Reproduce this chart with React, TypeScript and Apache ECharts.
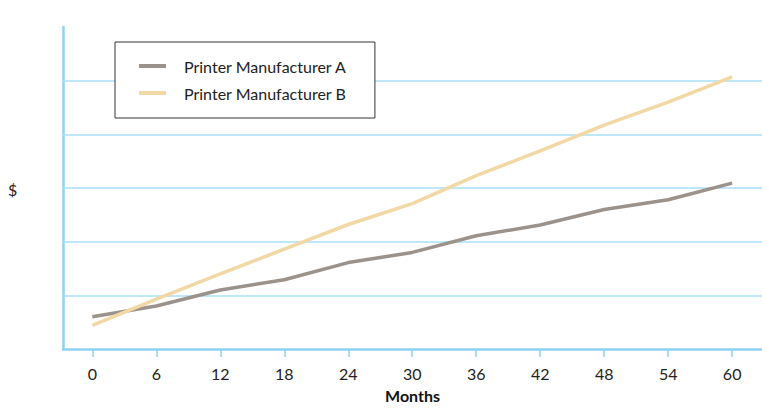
import React, { useEffect, useRef } from "react";
import * as echarts from "echarts";

const months = [0, 6, 12, 18, 24, 30, 36, 42, 48, 54, 60];
const seriesA = [0.6, 0.8, 1.1, 1.29, 1.61, 1.8, 2.11, 2.31, 2.6, 2.78, 3.09];
const seriesB = [0.44, 0.93, 1.4, 1.86, 2.32, 2.71, 3.23, 3.69, 4.17, 4.6, 5.07];
const seriesNames = ["Printer Manufacturer A", "Printer Manufacturer B"];
const gridValues = [1, 2, 3, 4, 5];
const xTitle = "Months";
const yTitle = "$";

const FONT = "Lato, 'Open Sans', sans-serif";

export default function App() {
  const ref = useRef<HTMLDivElement>(null);
  useEffect(() => {
    if (!ref.current) return;
    const chart = echarts.init(ref.current, null, { renderer: "svg" });
    chart.setOption({
      animation: false,
      grid: { left: 63, right: 0, top: 27, bottom: 55, containLabel: false },
      xAxis: {
        type: "value",
        min: -2.75,
        max: 62.8,
        name: xTitle,
        nameLocation: "middle",
        nameGap: 38,
        nameTextStyle: { fontFamily: FONT, fontSize: 16, fontWeight: "bold", color: "#111" },
        axisLine: { show: true, onZero: false, lineStyle: { color: "#8fd3f3", width: 2.5 } },
        axisTick: { show: true, length: 8, customValues: months, lineStyle: { color: "#8fd3f3", width: 1.5 } },
        axisLabel: { customValues: months, margin: 16, fontFamily: FONT, fontSize: 16, color: "#222" },
        splitLine: { show: false },
      },
      yAxis: {
        type: "value",
        min: 0,
        max: 6,
        interval: 1,
        axisLine: { show: true, onZero: false, lineStyle: { color: "#8fd3f3", width: 2.5 } },
        axisTick: { show: false },
        axisLabel: { show: false },
        splitLine: { show: false },
      },
      legend: {
        left: 115,
        top: 42,
        orient: "vertical",
        icon: "rect",
        itemWidth: 27,
        itemHeight: 4,
        itemGap: 11,
        padding: [16, 28, 17, 24],
        borderColor: "#333",
        borderWidth: 1,
        backgroundColor: "#fff",
        textStyle: { fontFamily: FONT, fontSize: 16, color: "#222", padding: [0, 0, 0, 13] },
        data: seriesNames,
      },
      graphic: [
        {
          type: "text",
          left: 8,
          top: 181,
          style: { text: yTitle, fontFamily: FONT, fontSize: 16, fill: "#222" },
        },
      ],
      series: [
        {
          name: seriesNames[0],
          type: "line",
          data: months.map((m, i) => [m, seriesA[i]]),
          showSymbol: false,
          symbol: "none",
          lineStyle: { color: "#9b928b", width: 3.5 },
          itemStyle: { color: "#9b928b" },
          z: 3,
          markLine: {
            silent: true,
            symbol: "none",
            label: { show: false },
            lineStyle: { color: "#a9dff6", width: 1.5, type: "solid" },
            data: gridValues.map((v) => ({ yAxis: v })),
            z: 1,
          },
        },
        {
          name: seriesNames[1],
          type: "line",
          data: months.map((m, i) => [m, seriesB[i]]),
          showSymbol: false,
          symbol: "none",
          lineStyle: { color: "#f1d8a5", width: 3.5 },
          itemStyle: { color: "#f1d8a5" },
          z: 3,
        },
      ],
    });
    return () => chart.dispose();
  }, []);
  return <div ref={ref} style={{ width: 762, height: 408, position: "absolute", left: 0, top: 0 }} />;
}
